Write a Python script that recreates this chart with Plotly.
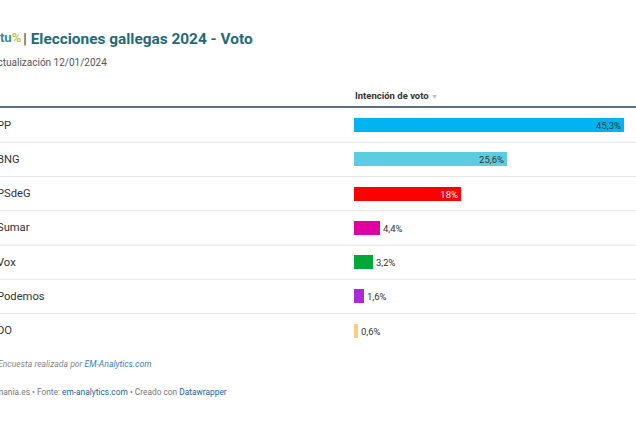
import plotly.graph_objects as go

parties = ["PP", "BNG", "PSdeG", "Sumar", "Vox", "Podemos", "DO"]
votes = [45.3, 25.6, 18.0, 4.4, 3.2, 1.6, 0.6]
colors = ["#00b4f0", "#5ccde0", "#ff0000", "#e0009f", "#00a83a", "#ac2ad6", "#ffcc84"]
label_inside = [True, True, True, False, False, False, False]
label_colors = ["#333333", "#333333", "#ffffff", "#333333", "#333333", "#333333", "#333333"]

W, H = 636, 427
BAR_X0 = 354          # pixel where value 0 sits
PX_PER_UNIT = 5.97
ROW_TOP, ROW_H = 108, 34.25

def px(x):
    return x / W

def py(y):
    return 1 - y / H

def fmt(v):
    return ("%g" % v).replace(".", ",") + "%"

texts = [fmt(v) for v in votes]
n = len(parties)
xmax = (W - BAR_X0) / PX_PER_UNIT

fig = go.Figure(go.Bar(
    x=votes, y=parties, orientation="h",
    marker=dict(color=colors, line=dict(width=0)),
    width=0.41,
    text=texts,
    textposition=["inside" if b else "outside" for b in label_inside],
    insidetextanchor="end",
    constraintext="none",
    cliponaxis=False,
    textfont=dict(family="Roboto", size=9.5, color=label_colors),
    hoverinfo="skip",
))

shapes = []
# header rule
shapes.append(dict(type="line", xref="paper", yref="paper", x0=0, x1=1,
                   y0=py(107), y1=py(107), line=dict(color="#23405e", width=1.3)))
# row separators
for i in range(n - 1):
    shapes.append(dict(type="line", xref="paper", yref="y", x0=0, x1=1,
                       y0=i + 0.5, y1=i + 0.5, line=dict(color="#e6e6e6", width=1)))

ann = []
for i, p in enumerate(parties):
    ann.append(dict(x=px(-5), y=p, xref="paper", yref="y", text=p, showarrow=False,
                    xanchor="left", yanchor="middle",
                    font=dict(family="Roboto", size=11.2, color="#333333")))

# logo (partial) + title
ann.append(dict(x=px(-9), y=py(38), xref="paper", yref="paper", showarrow=False,
                xanchor="left", yanchor="middle",
                text="<b><span style='color:#2a8f98'>atu</span><span style='color:#c8c43a'>%</span></b>",
                font=dict(family="Roboto", size=13)))
ann.append(dict(x=px(21), y=py(39), xref="paper", yref="paper", showarrow=False,
                xanchor="left", yanchor="middle",
                text="<b>| Elecciones gallegas 2024 - Voto</b>",
                font=dict(family="Roboto", size=15.4, color="#1f6b77")))
ann.append(dict(x=px(-11), y=py(63), xref="paper", yref="paper", showarrow=False,
                xanchor="left", yanchor="middle", text="Actualización 12/01/2024",
                font=dict(family="Roboto", size=10, color="#555555")))
# column header
ann.append(dict(x=px(353), y=py(95), xref="paper", yref="paper", showarrow=False,
                xanchor="left", yanchor="middle",
                text="<b>Intención de voto</b> <span style='color:#bbbbbb;font-size:7px'>▼</span>",
                font=dict(family="Roboto", size=9.5, color="#333333")))
# notes
ann.append(dict(x=px(-4), y=py(364), xref="paper", yref="paper", showarrow=False,
                xanchor="left", yanchor="middle",
                text="<i>Encuesta realizada por <span style='color:#3a7fb0'>EM-Analytics.com</span></i>",
                font=dict(family="Roboto", size=8.6, color="#888888")))
ann.append(dict(x=px(-29), y=py(392), xref="paper", yref="paper", showarrow=False,
                xanchor="left", yanchor="middle",
                text="Electomania.es • Fonte: <span style='color:#1d5f9a'>em-analytics.com</span> • Creado con <span style='color:#1d5f9a'>Datawrapper</span>",
                font=dict(family="Roboto", size=8.35, color="#777777")))

fig.update_layout(
    width=W, height=H,
    margin=dict(l=0, r=0, t=0, b=0),
    paper_bgcolor="white", plot_bgcolor="white",
    showlegend=False,
    bargap=0,
    xaxis=dict(domain=[px(BAR_X0), 1], range=[0, xmax], visible=False, fixedrange=True),
    yaxis=dict(domain=[py(ROW_TOP + n * ROW_H), py(ROW_TOP)], range=[n - 0.5, -0.5],
               visible=False, fixedrange=True),
    shapes=shapes,
    annotations=ann,
    uniformtext=dict(minsize=9, mode="show"),
)

fig.write_html("out.html", config={"displayModeBar": False},
               post_script="document.body.style.margin='0';document.body.style.overflow='hidden';")
